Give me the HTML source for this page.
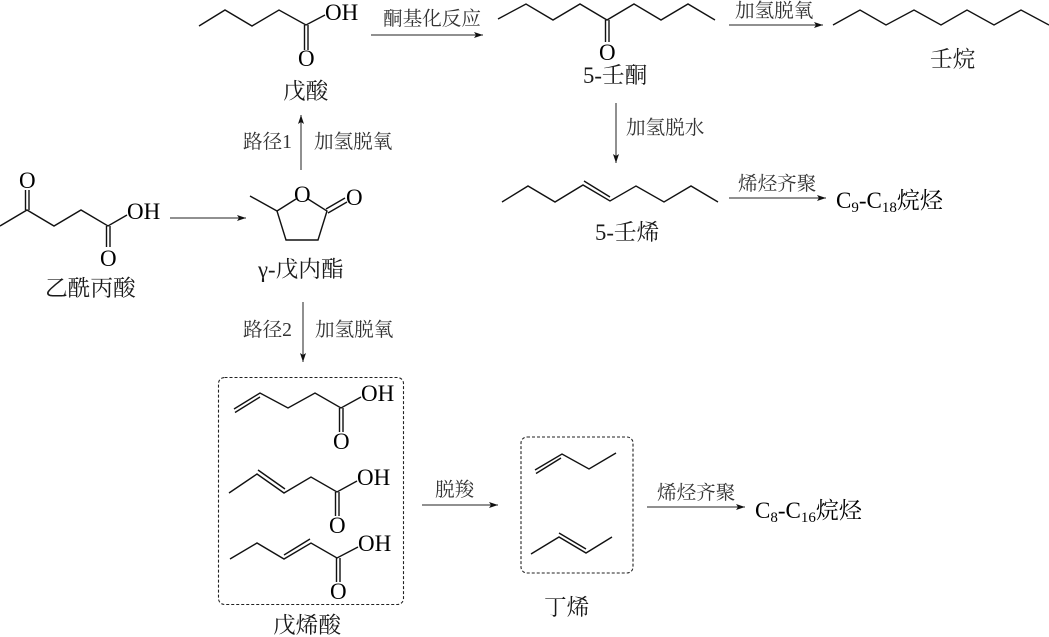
<!DOCTYPE html>
<html><head><meta charset="utf-8"><style>
html,body{margin:0;padding:0;background:#fff;width:1049px;height:637px;overflow:hidden}
svg{display:block}
text{font-family:"Liberation Serif","Noto Serif CJK SC",serif;fill:#1a1a1a}
.l{font-size:22.7px}.m{font-size:19.6px;fill:#333}.a{font-size:23px;fill:#000}
.b{fill:none;stroke:#111;stroke-width:1.4;stroke-linejoin:miter}
.w{fill:none;stroke:#222;stroke-width:1}
.d{fill:none;stroke:#222;stroke-width:1.1;stroke-dasharray:3 2}
</style></head><body>
<svg width="1049" height="637" viewBox="0 0 1049 637" xmlns="http://www.w3.org/2000/svg">
<defs><marker id="h" markerUnits="userSpaceOnUse" markerWidth="10" markerHeight="8" refX="9" refY="4" orient="auto"><path d="M0 1 L9 4 L0 7 L2 4Z" fill="#111"/></marker></defs>

<!-- pentanoic acid -->
<path class="b" d="M199 26L225 10L252 26L279 10L306 25L325 15"/>
<path class="b" d="M304.500 25V50M308 25V50"/>
<text class="a" x="325" y="20">OH</text>
<text class="a" x="298" y="66">O</text>
<text class="l" x="283" y="99">戊酸</text>

<!-- levulinic acid -->
<path class="b" d="M0 226L27 210L54 226L81 210L108 226L127 215"/>
<path class="b" d="M25.500 210V190M29 210V190"/>
<path class="b" d="M106.500 226V247M110 226V247"/>
<text class="a" x="19" y="188">O</text>
<text class="a" x="127" y="219">OH</text>
<text class="a" x="100" y="266">O</text>
<text class="l" x="45" y="296">乙酰丙酸</text>

<!-- lactone -->
<path class="b" d="M250 196L277 211L286 240H318L327 211L308 199M296 199L277 211"/>
<path class="b" d="M326 209L345 198M328 213L347 202"/>
<text class="a" x="294" y="202">O</text>
<text class="a" x="346" y="205">O</text>
<text class="l" x="258" y="277">γ-戊内酯</text>

<!-- main arrows -->
<path class="w" d="M170 218H246" marker-end="url(#h)"/>
<path class="w" d="M301 170V115" marker-end="url(#h)"/>
<path class="w" d="M303 302V362" marker-end="url(#h)"/>
<path class="w" d="M371 35H483" marker-end="url(#h)"/>
<path class="w" d="M729 25H823" marker-end="url(#h)"/>
<path class="w" d="M616 103V163" marker-end="url(#h)"/>
<path class="w" d="M729 198H826" marker-end="url(#h)"/>
<path class="w" d="M422 505H498" marker-end="url(#h)"/>
<path class="w" d="M647 507H745" marker-end="url(#h)"/>

<text class="m" x="243" y="148">路径1</text>
<text class="m" x="314" y="148">加氢脱氧</text>
<text class="m" x="243" y="336">路径2</text>
<text class="m" x="315" y="336">加氢脱氧</text>
<text class="m" x="383" y="25">酮基化反应</text>
<text class="m" x="735" y="17">加氢脱氧</text>
<text class="m" x="626" y="134">加氢脱水</text>
<text class="m" x="738" y="190">烯烃齐聚</text>
<text class="m" x="435" y="496">脱羧</text>
<text class="m" x="657" y="499">烯烃齐聚</text>

<!-- 5-nonanone -->
<path class="b" d="M498 19L526 4L553 20L580 4L607 20L634 4L661 20L688 4L715 20"/>
<path class="b" d="M605.500 20V42M609 20V42"/>
<text class="a" x="599" y="60">O</text>
<text class="l" x="583" y="83">5-壬酮</text>

<!-- nonane -->
<path class="b" d="M833 25L860 10L886 25L914 10L941 25L967 10L994 25L1021 10L1049 25"/>
<text class="l" x="930" y="67">壬烷</text>

<!-- 5-nonene -->
<path class="b" d="M502 202L528 186L555 202L583 185L610 201L636 186L664 202L691 186L718 202"/>
<path class="b" d="M584 181L610 197"/>
<text class="l" x="595" y="240">5-壬烯</text>
<text class="a" x="836" y="208">C<tspan font-size="15" dy="4">9</tspan><tspan dy="-4">-C</tspan><tspan font-size="15" dy="4">18</tspan><tspan dy="-4">烷烃</tspan></text>

<!-- pentenoic box -->
<rect class="d" x="218.500" y="377.500" width="185" height="227" rx="6"/>
<path class="b" d="M234 409L260 393L288 408L315 393L341 408L361 397"/>
<path class="b" d="M235 412.500L260 397"/>
<path class="b" d="M339.500 408V432M343 408V432"/>
<text class="a" x="361" y="401">OH</text>
<text class="a" x="333" y="449">O</text>

<path class="b" d="M229 493L257 474L284 493L311 477L337 492L357 481"/>
<path class="b" d="M258 470L285 489"/>
<path class="b" d="M335.500 492V516M339 492V516"/>
<text class="a" x="357" y="485">OH</text>
<text class="a" x="329" y="533">O</text>

<path class="b" d="M230 559L257 543L284 559L311 543L337 558L358 547"/>
<path class="b" d="M284 555L310 539"/>
<path class="b" d="M336.500 558V582M340 558V582"/>
<text class="a" x="358" y="551">OH</text>
<text class="a" x="330" y="599">O</text>
<text class="l" x="273" y="633">戊烯酸</text>

<!-- butene box -->
<rect class="d" x="521" y="437" width="112" height="136" rx="6"/>
<path class="b" d="M535 470L562 454L589 469L616 453"/>
<path class="b" d="M536 473.500L561 458"/>
<path class="b" d="M531 554L559 537L586 553L612 537"/>
<path class="b" d="M559 533L586 549"/>
<text class="l" x="544" y="615">丁烯</text>
<text class="a" x="755" y="518">C<tspan font-size="15" dy="4">8</tspan><tspan dy="-4">-C</tspan><tspan font-size="15" dy="4">16</tspan><tspan dy="-4">烷烃</tspan></text>
</svg>
</body></html>
